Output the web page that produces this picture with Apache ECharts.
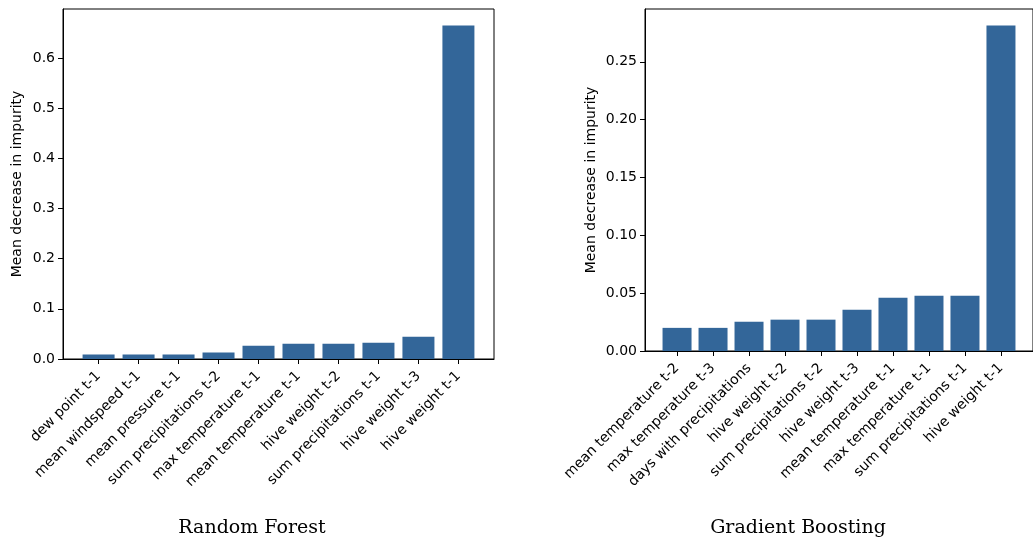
<!DOCTYPE html>
<html>
<head>
<meta charset="utf-8">
<script src="https://cdn.jsdelivr.net/npm/echarts@6/dist/echarts.min.js"></script>
<style>
  html, body { margin: 0; padding: 0; background: #fff; }
  #chart { width: 1033px; height: 542px; }
</style>
</head>
<body>
<div id="chart"></div>
<script>
// Random Forest feature importances
const rfNames = ['dew point t-1', 'mean windspeed t-1', 'mean pressure t-1', 'sum precipitations t-2',
  'max temperature t-1', 'mean temperature t-1', 'hive weight t-2', 'sum precipitations t-1',
  'hive weight t-3', 'hive weight t-1'];
const rfValues = [0.009, 0.009, 0.009, 0.013, 0.0265, 0.0305, 0.0305, 0.0325, 0.0445, 0.665];
const rfTicks = [0, 0.1, 0.2, 0.3, 0.4, 0.5, 0.6];

// Gradient Boosting feature importances
const gbNames = ['mean temperature t-2', 'max temperature t-3', 'days with precipitations', 'hive weight t-2',
  'sum precipitations t-2', 'hive weight t-3', 'mean temperature t-1', 'max temperature t-1',
  'sum precipitations t-1', 'hive weight t-1'];
const gbValues = [0.020, 0.020, 0.0253, 0.0271, 0.0271, 0.0357, 0.046, 0.0478, 0.0478, 0.2815];
const gbTicks = [0, 0.05, 0.1, 0.15, 0.2, 0.25];

const positions = rfNames.map((n, i) => i);
const barColor = '#336699';
const font = 'DejaVu Sans';

function xAxisFor(gridIndex, names) {
    return {
        type: 'value',
        gridIndex: gridIndex,
        min: -0.89,
        max: 9.89,
        splitLine: { show: false },
        axisLine: { show: true, onZero: false, lineStyle: { color: '#000', width: 1 } },
        axisTick: { show: true, customValues: positions, length: 5, lineStyle: { color: '#000' } },
        axisLabel: {
            customValues: positions,
            rotate: 45,
            margin: 15,
            fontFamily: font,
            fontSize: 14,
            color: '#000',
            formatter: v => names[Math.round(v)]
        }
    };
}

function yAxisFor(gridIndex, max, ticks, digits, gap) {
    return {
        type: 'value',
        gridIndex: gridIndex,
        min: 0,
        max: max,
        name: 'Mean decrease in impurity',
        nameLocation: 'middle',
        nameGap: gap,
        nameTextStyle: { fontFamily: font, fontSize: 14, color: '#000' },
        splitLine: { show: false },
        axisLine: { show: true, onZero: false, lineStyle: { color: '#000', width: 1 } },
        axisTick: { show: true, customValues: ticks, length: 5, lineStyle: { color: '#000' } },
        axisLabel: {
            customValues: ticks,
            margin: 8,
            fontFamily: font,
            fontSize: 14,
            color: '#000',
            formatter: v => v.toFixed(digits)
        }
    };
}

const chart = echarts.init(document.getElementById('chart'));
chart.setOption({
    animation: false,
    backgroundColor: '#fff',
    grid: [
        { left: 63, top: 9, width: 431, height: 350, show: true, borderColor: '#000', borderWidth: 1 },
        { left: 645, top: 9, width: 394, height: 342, show: true, borderColor: '#000', borderWidth: 1 }
    ],
    xAxis: [xAxisFor(0, rfNames), xAxisFor(1, gbNames)],
    yAxis: [
        yAxisFor(0, 0.698, rfTicks, 1, 39),
        yAxisFor(1, 0.2957, gbTicks, 2, 47)
    ],
    series: [
        {
            type: 'bar',
            xAxisIndex: 0,
            yAxisIndex: 0,
            barWidth: 32,
            itemStyle: { color: barColor, borderWidth: 0 },
            data: rfValues.map((v, i) => [positions[i], v])
        },
        {
            type: 'bar',
            xAxisIndex: 1,
            yAxisIndex: 1,
            barWidth: 29,
            itemStyle: { color: barColor, borderWidth: 0 },
            data: gbValues.map((v, i) => [positions[i], v])
        }
    ],
    graphic: [
        {
            type: 'text', x: 252, y: 528,
            style: { text: 'Random Forest', textAlign: 'center', textVerticalAlign: 'middle',
                font: '19px "DejaVu Serif"', fill: '#000' }
        },
        {
            type: 'text', x: 798, y: 528,
            style: { text: 'Gradient Boosting', textAlign: 'center', textVerticalAlign: 'middle',
                font: '19px "DejaVu Serif"', fill: '#000' }
        }
    ]
});
</script>
</body>
</html>
